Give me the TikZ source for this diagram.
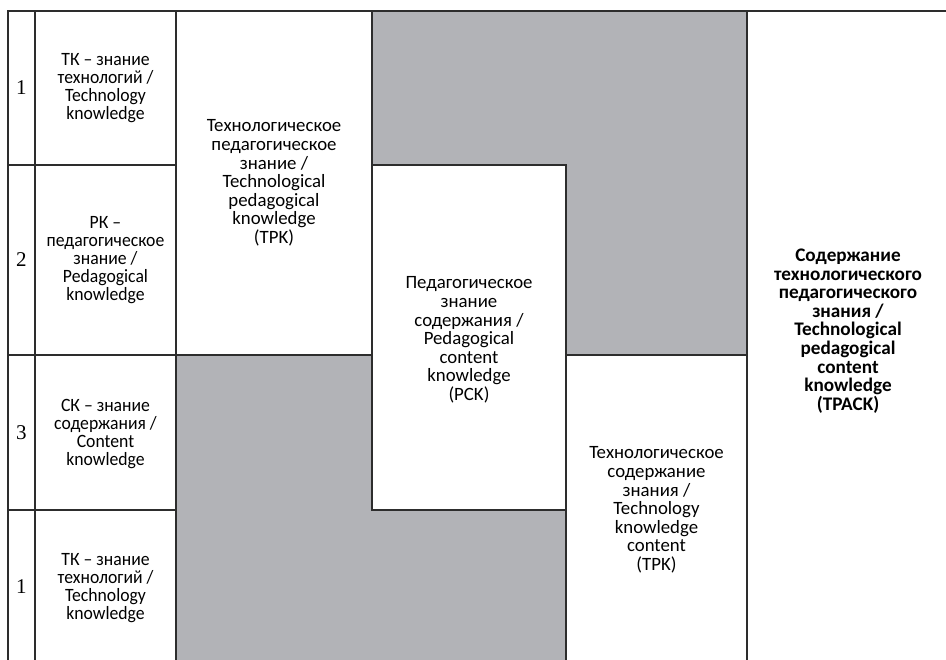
\documentclass[tikz,border=0pt]{standalone}
\usepackage{fontspec}
\setmainfont{Carlito}
\newfontfamily\condfont[FakeStretch=0.94]{Carlito}
\newfontfamily\numfont{Liberation Serif}
\definecolor{areagray}{RGB}{178,179,183}
\definecolor{linegray}{RGB}{45,45,45}

\begin{document}
\begin{tikzpicture}[x=1pt, y=-1pt,
		frame/.style={draw=linegray, line width=1.6pt, line cap=rect},
		num/.style={inner sep=0pt, font=\numfont\fontsize{21}{21}\selectfont},
		basic/.style={align=center, inner sep=0pt, font=\condfont\fontsize{18.8}{17.8}\selectfont},
		mixed/.style={align=center, inner sep=0pt, font=\fontsize{18.8}{18.6}\selectfont},
		tpack/.style={align=center, inner sep=0pt, font=\bfseries\fontsize{19.2}{18.6}\selectfont}]
		\useasboundingbox (0,0) rectangle (946,660);
		
		% grey areas
		\fill[areagray] (372,11) -- (747,11) -- (747,355) -- (566,355) -- (566,165) -- (372,165) -- cycle;
		\fill[areagray] (176,355) -- (372,355) -- (372,510) -- (566,510) -- (566,660) -- (176,660) -- cycle;
		
		% lines
		\draw[frame] (8,660) -- (8,11) -- (946,11);
		\draw[frame] (35,11) -- (35,660);
		\draw[frame] (176,11) -- (176,660);
		\draw[frame] (8,165) -- (176,165);
		\draw[frame] (8,355) -- (372,355) -- (372,11);
		\draw[frame] (8,510) -- (176,510);
		\draw[frame] (372,165) -- (566,165) -- (566,660);
		\draw[frame] (372,355) -- (372,510) -- (566,510);
		\draw[frame] (566,355) -- (747,355);
		\draw[frame] (747,11) -- (747,660);
		
		% numbers
		\node[num] (n1) at (21.5,88) {1};
		\node[num] (n2) at (21.5,260) {2};
		\node[num] (n3) at (21.5,433) {3};
		\node[num] (n4) at (21.5,587) {1};
		
		% basic knowledge
		\node[basic] (tk1) at (105.5,88) {ТК – знание\\технологий /\\Technology\\knowledge};
		\node[basic] (pk) at (105.5,260) {РК –\\педагогическое\\знание /\\Pedagogical\\knowledge};
		\node[basic] (ck) at (105.5,434) {СК – знание\\содержания /\\Content\\knowledge};
		\node[basic] (tk2) at (105.5,588) {ТК – знание\\технологий /\\Technology\\knowledge};
		
		% mixed knowledge
		\node[mixed] (tpk) at (274,183) {Технологическое\\педагогическое\\знание /\\Technological\\pedagogical\\knowledge\\(TPK)};
		\node[mixed] (pck) at (469,340) {Педагогическое\\знание\\содержания /\\Pedagogical\\content\\knowledge\\(PCK)};
		\node[mixed] (tck) at (656.5,510) {Технологическое\\содержание\\знания /\\Technology\\knowledge\\content\\(TPK)};
		
		\node[tpack] (all) at (848,331) {Содержание\\технологического\\педагогического\\знания /\\Technological\\pedagogical\\content\\knowledge\\(TPACK)};
		
	\end{tikzpicture}
\end{document}
